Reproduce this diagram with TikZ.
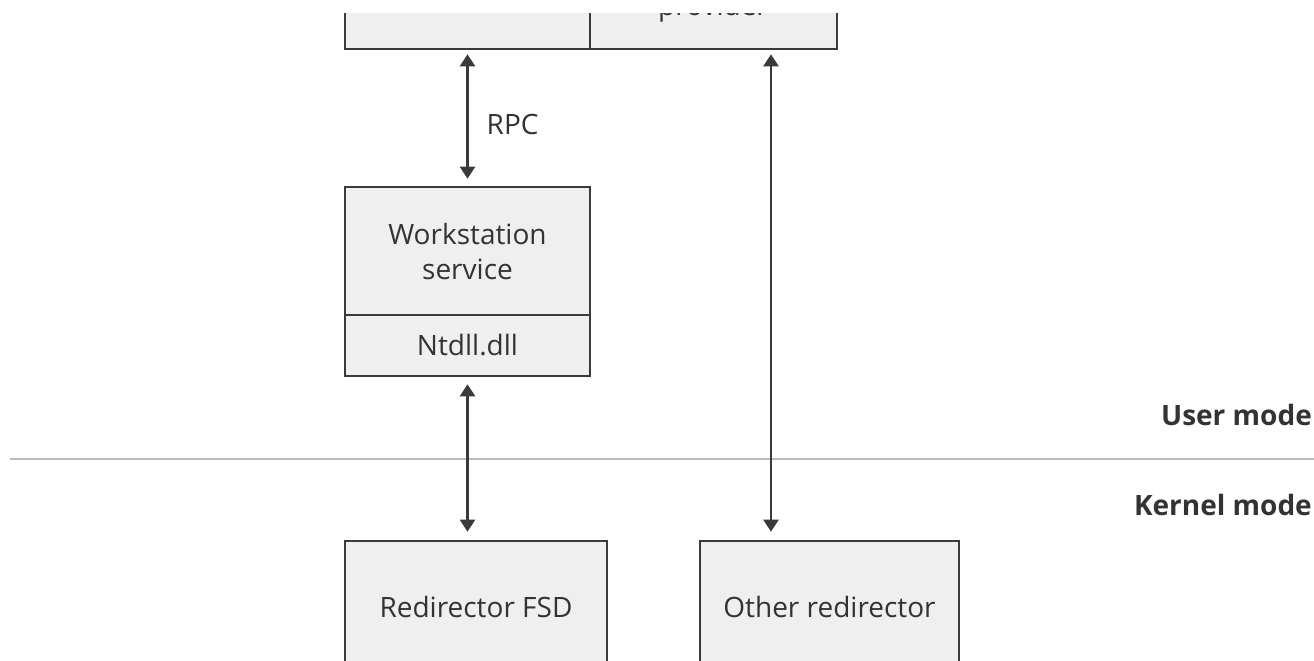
\documentclass[tikz,border=0pt]{standalone}
\usepackage{fontspec}
\setmainfont{Open Sans}
\usetikzlibrary{arrows.meta}
\definecolor{boxfill}{HTML}{EFEFEF}
\definecolor{boxline}{HTML}{3A3A3A}
\definecolor{txt}{HTML}{333333}
\definecolor{divline}{HTML}{BBBBBB}
\tikzset{
  box/.style={draw=boxline, fill=boxfill, line width=2.6pt, rectangle, inner sep=0pt,
    text=txt, align=center, font=\fontsize{28}{35}\selectfont},
  lbl/.style={text=txt, inner sep=0pt, font=\fontsize{28}{35}\selectfont},
  modelbl/.style={text=txt, inner sep=0pt, font=\fontsize{28}{35}\selectfont\bfseries},
  arr/.style={draw=boxline, line width=2.4pt,
    {Triangle[width=15pt,length=12pt]}-{Triangle[width=15pt,length=12pt]}},
  divider/.style={draw=divline, line width=2.5pt}
}
\begin{document}
\begin{tikzpicture}[x=1pt,y=-1pt]
\useasboundingbox[fill=white] (0,0) rectangle (1314,661);
\clip (0,14) rectangle (1314,661);
% top boxes (cut off)
\node[box, minimum width=245pt, minimum height=100pt] (topL) at (467.5,-1) {};
\node[box, minimum width=247pt, minimum height=100pt] (topR) at (713.5,-1) {};
\node[lbl, anchor=base] (prov) at (713,16) {provider};
% workstation
\node[box, minimum width=245pt, minimum height=128pt] (ws) at (467.5,251) {Workstation\\service};
\node[box, minimum width=245pt, minimum height=61pt] (nt) at (467.5,345.5) {Ntdll.dll};
% kernel boxes
\node[box, minimum width=262pt, minimum height=132pt] (rfsd) at (476,607) {Redirector FSD};
\node[box, minimum width=259pt, minimum height=132pt] (other) at (829.5,607) {Other redirector};
% divider
\draw[divider] (10,459) -- (1314,459);
\node[modelbl, anchor=east] (user) at (1312,415) {User mode};
\node[modelbl, anchor=east] (kernel) at (1312,505) {Kernel mode};
% connectors
\draw[arr, shorten <=4pt, shorten >=7pt] (topL) -- (ws)
  node[pos=0.5, lbl, anchor=west, xshift=18pt, yshift=-6pt] (rpc) {RPC};
\draw[arr, shorten <=7pt, shorten >=8pt] (nt.south) -- (nt.south |- rfsd.north);
\path (topR.south) ++(57.5,0) coordinate (rtop);
\draw[arr, shorten <=4pt, shorten >=8pt] (rtop) -- (rtop |- other.north);
\end{tikzpicture}
\end{document}
